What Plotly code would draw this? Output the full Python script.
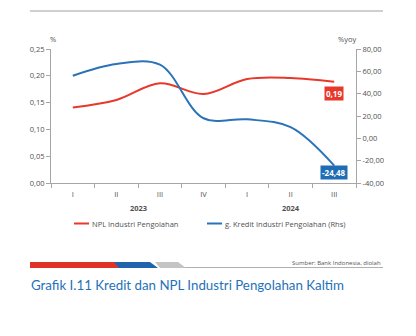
import plotly.graph_objects as go

quarters = ["I", "II", "III", "IV", "I", "II", "III"]
years = ["2023", "2024"]
year_spans = [(0, 3), (4, 6)]
npl = [0.141, 0.155, 0.186, 0.166, 0.194, 0.196, 0.189]
kredit = [56.0, 66.5, 66.0, 18.0, 17.0, 10.0, -24.48]
left_ticks = [0.0, 0.05, 0.10, 0.15, 0.20, 0.25]
right_ticks = [-40, -20, 0, 20, 40, 60, 80]
right_ticktext = ["-40,00", "-20,00", "0,00", "20,00", "40,00", "60,00", "80,00"]
series_names = ["NPL Industri Pengolahan", "g. Kredit Industri Pengolahan (Rhs)"]

RED = "#e8382b"
BLUE = "#2b73b8"
AX = "#a6a6a6"
TXT = "#505050"
FONT = "Open Sans"

W, H = 416, 336
L, R, T, B = 51, 356, 49, 183  # plot area in px


def px(xp):
    return (xp - L) / (R - L)


def py(yp):
    return (B - yp) / (B - T)


xs = list(range(len(quarters)))

fig = go.Figure()
fig.add_trace(go.Scatter(x=xs, y=npl, mode="lines", name=series_names[0],
                         line=dict(color=RED, width=2, shape="spline", smoothing=1.0),
                         yaxis="y"))
fig.add_trace(go.Scatter(x=xs, y=kredit, mode="lines", name=series_names[1],
                         line=dict(color=BLUE, width=2, shape="spline", smoothing=1.0),
                         yaxis="y2"))

axis_common = dict(showgrid=False, zeroline=False, showline=True, linecolor=AX, linewidth=1,
                   ticks="outside", tickcolor=AX, ticklen=4,
                   tickfont=dict(family=FONT, size=7.5, color=TXT))

fig.update_layout(
    width=W, height=H,
    margin=dict(l=L, r=W - R, t=T, b=H - B, pad=0),
    paper_bgcolor="white", plot_bgcolor="white",
    separators=", ",
    showlegend=False,
    xaxis=dict(range=[-0.5, len(quarters) - 0.5], tickvals=xs, ticktext=quarters,
               showgrid=False, zeroline=False, showline=True, linecolor=AX, linewidth=1,
               ticks="", ticklabelstandoff=4, tickfont=dict(family=FONT, size=7.5, color=TXT),
               minor=dict(tick0=-0.5, dtick=1, ticks="outside", ticklen=4, tickcolor=AX, showgrid=False)),
    yaxis=dict(range=[0, 0.25], tickvals=left_ticks, tickformat=".2f", **axis_common),
    yaxis2=dict(range=[-40, 80], tickvals=right_ticks, ticktext=right_ticktext, overlaying="y",
                side="right", **axis_common),
)

# Year labels
for yr, (a, b) in zip(years, year_spans):
    fig.add_annotation(x=(a + b) / 2, y=py(208), xref="x", yref="paper", yanchor="middle",
                       text=f"<b>{yr}</b>", showarrow=False,
                       font=dict(family=FONT, size=7.5, color=TXT))

# Manual legend
legend_items = [(series_names[0], RED, 74, 89), (series_names[1], BLUE, 207, 222)]
for name, col, x0, x1 in legend_items:
    fig.add_shape(type="line", xref="paper", yref="paper", x0=px(x0), x1=px(x1), y0=py(223.5), y1=py(223.5),
                  line=dict(color=col, width=2))
    fig.add_annotation(x=px(x1 + 1), y=py(223.5), xref="paper", yref="paper", xanchor="left", yanchor="middle",
                       text=name, showarrow=False, font=dict(family=FONT, size=7.5, color=TXT))

# Axis titles
fig.add_annotation(x=px(53), y=py(39), xref="paper", yref="paper", yanchor="middle", xanchor="center",
                   text="%", showarrow=False, font=dict(family=FONT, size=7.5, color=TXT))
fig.add_annotation(x=px(347), y=py(39), xref="paper", yref="paper", yanchor="middle", xanchor="center",
                   text="%yoy", showarrow=False, font=dict(family=FONT, size=7.5, color=TXT))

# End labels
fig.add_annotation(x=xs[-1], y=npl[-1], xref="x", yref="y", yshift=-12,
                   text=f"<b>{npl[-1]:.2f}</b>".replace(".", ","), showarrow=False,
                   bgcolor=RED, font=dict(family=FONT, size=8, color="white"), borderpad=1)
fig.add_annotation(x=xs[-1], y=kredit[-1], xref="x", yref="y2", yshift=-7,
                   text=f"<b>{kredit[-1]:.2f}</b>".replace(".", ","), showarrow=False,
                   bgcolor="#1f6db5", font=dict(family=FONT, size=8, color="white"), borderpad=1)

# Top rule
fig.add_shape(type="line", xref="paper", yref="paper", x0=px(30), x1=px(383), y0=py(11), y1=py(11),
              line=dict(color="#a0a0a0", width=1))

# Footer bar
y_top, y_bot = py(262), py(268)
fig.add_shape(type="line", xref="paper", yref="paper", x0=px(180), x1=px(383), y0=py(267.5), y1=py(267.5),
              line=dict(color="#b0b0b0", width=1))
fig.add_shape(type="path", xref="paper", yref="paper",
              path=f"M {px(155)},{y_top} L {px(178)},{y_top} L {px(186)},{y_bot} L {px(160)},{y_bot} Z",
              fillcolor="#c4c4c4", line=dict(width=0))
fig.add_shape(type="path", xref="paper", yref="paper",
              path=f"M {px(113)},{y_top} L {px(150)},{y_top} L {px(158)},{y_bot} L {px(118)},{y_bot} Z",
              fillcolor="#1f63ad", line=dict(width=0))
fig.add_shape(type="path", xref="paper", yref="paper",
              path=f"M {px(30)},{y_top} L {px(114)},{y_top} L {px(119)},{y_bot} L {px(30)},{y_bot} Z",
              fillcolor="#e03327", line=dict(width=0))

fig.add_annotation(x=px(383), y=py(263), xref="paper", yref="paper", xanchor="right", yanchor="middle",
                   text="Sumber: Bank Indonesia, diolah", showarrow=False,
                   font=dict(family=FONT, size=6, color="#555555"))

fig.add_annotation(x=px(29), y=py(285), xref="paper", yref="paper", xanchor="left", yanchor="middle",
                   text="Grafik I.11 Kredit dan NPL Industri Pengolahan Kaltim", showarrow=False,
                   font=dict(family="Lato", size=13.3, color="#1f72b8"))

fig.write_html("out.html")
